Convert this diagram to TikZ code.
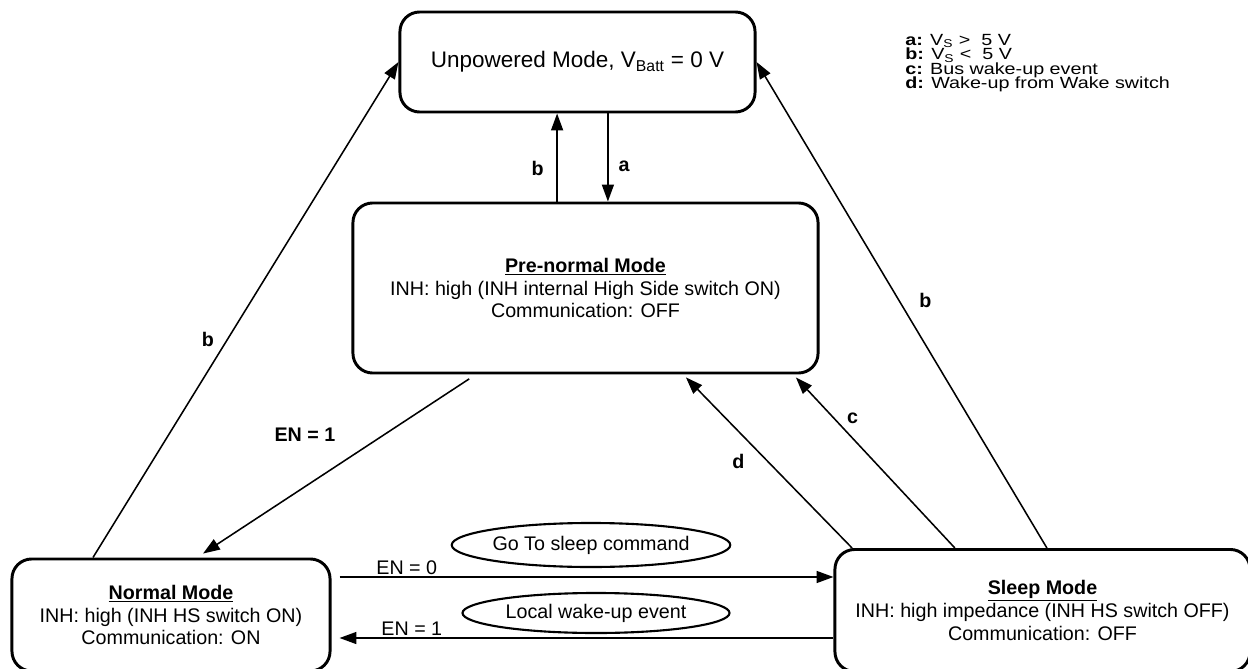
\documentclass[tikz,border=0pt]{standalone}
\usepackage{fontspec}
\setmainfont{Liberation Sans}
\usetikzlibrary{arrows.meta,calc,positioning,shapes.geometric}
\tikzset{
  >={Triangle[length=12pt,width=8.5pt]},
  modeBox/.style={draw,line width=2.1pt,rounded corners=14pt,align=center,inner sep=0pt,
    font=\fontsize{14}{16.3}\selectfont},
  condEllipse/.style={ellipse,draw,line width=1.5pt,inner sep=0pt,font=\fontsize{14}{16}\selectfont},
  trans/.style={->,line width=1.1pt},
  edgeLabel/.style={font=\bfseries\fontsize{14}{16}\selectfont,inner sep=0pt},
  enLabel/.style={font=\fontsize{14}{16}\selectfont,inner sep=1pt},
}

\begin{document}
\begin{tikzpicture}[x=0.025cm, y=-0.025cm]

\useasboundingbox (0,0) rectangle (1248,669);

% ===== Modes =====
\node[modeBox, minimum width=8.875cm, minimum height=2.5cm, font=\fontsize{16}{19}\selectfont]
  (unpow) at (577.5,62) {Unpowered Mode, V\textsubscript{Batt} = 0 V};
\node[modeBox, minimum width=11.625cm, minimum height=4.25cm]
  (prenorm) at (585.5,288) {\textbf{\underline{Pre-normal Mode}}\\INH: high (INH internal High Side switch ON)\\Communication: OFF};
\node[modeBox, minimum width=7.95cm, minimum height=2.8cm]
  (normal) at (171,615) {\textbf{\underline{Normal Mode}}\\INH: high (INH HS switch ON)\\Communication: ON};
\node[modeBox, minimum width=10.375cm, minimum height=3.05cm]
  (sleep) at (1042.5,610.5) {\textbf{\underline{Sleep Mode}}\\INH: high impedance (INH HS switch OFF)\\Communication: OFF};

% ===== Legend =====
\node[anchor=north west, align=left, inner sep=0pt, xscale=1.22, transform shape,
  font=\fontsize{11.5}{10.3}\selectfont\setlength{\lineskiplimit}{-20pt}]
  (legend) at (905,34) {\textbf{a:} V\textsubscript{S} >\ \ 5 V\\
    \textbf{b:} V\textsubscript{S} <\ \ 5 V\\
    \textbf{c:} Bus wake-up event\\
    \textbf{d:} Wake-up from Wake switch};

% ===== Unpowered <-> Pre-normal =====
\draw[trans] ([xshift=-0.71cm]prenorm.north) -- ([xshift=-0.71cm]prenorm.north |- unpow.south)
  node[edgeLabel, pos=0.38, left=9pt] {b};
\draw[trans] ([xshift=0.76cm]unpow.south) -- ([xshift=0.76cm]unpow.south |- prenorm.north)
  node[edgeLabel, pos=0.6, right=7pt] {a};

% ===== Battery loss (b) =====
\draw[trans] ([xshift=-1.95cm]normal.north) -- (unpow.west)
  node[edgeLabel, pos=0.44, left=9pt] {b};
\draw[trans] ([xshift=0.11cm]sleep.north) -- (unpow.east)
  node[edgeLabel, pos=0.51, right=14pt] {b};

% ===== Pre-normal -> Normal =====
\draw[trans, shorten <=0.2cm, shorten >=0.18cm] ([xshift=-2.74cm]prenorm.south) -- ([xshift=0.65cm]normal.north)
  node[edgeLabel, pos=0.33, left=34pt] {EN = 1};

% ===== Wake-up (c, d) =====
\draw[trans, shorten >=0.1cm] ([xshift=-4.76cm]sleep.north) -- ([xshift=2.44cm]prenorm.south)
  node[edgeLabel, pos=0.5, left=16pt] {d};
\draw[trans, shorten >=0.1cm] ([xshift=-2.19cm]sleep.north) -- ([xshift=5.19cm]prenorm.south)
  node[edgeLabel, pos=0.75, right=9pt] {c};

% ===== Normal <-> Sleep =====
\draw[trans, shorten <=0.2cm] ([yshift=0.95cm]normal.east) -- ([yshift=0.95cm]normal.east -| sleep.west)
  node[enLabel, pos=0.15, above] {EN = 0};
\draw[trans, shorten >=0.2cm] ([yshift=-0.575cm]normal.east -| sleep.west) -- ([yshift=-0.575cm]normal.east)
  node[enLabel, pos=0.84, above] {EN = 1};
\node[condEllipse, minimum width=6.675cm, minimum height=1.1cm] (sleepCmd) at (591,545) {Go To sleep command};
\node[condEllipse, minimum width=6.675cm, minimum height=1.0cm] (wakeEvent) at (596,613) {Local wake-up event};

\end{tikzpicture}
\end{document}
